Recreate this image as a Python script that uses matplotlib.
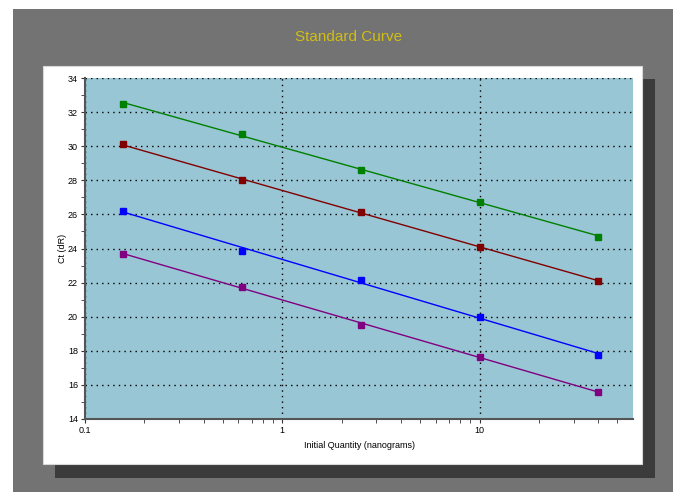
import numpy as np
import matplotlib.pyplot as plt
from matplotlib.patches import Rectangle

# Dilution series (nanograms) and Ct values for each standard
quantity = [0.156, 0.625, 2.5, 10, 40]
ct_green = [32.5, 30.7, 28.6, 26.75, 24.7]
ct_red = [30.1, 28.0, 26.15, 24.1, 22.1]
ct_blue = [26.2, 23.85, 22.15, 20.0, 17.75]
ct_purple = [23.7, 21.75, 19.5, 17.65, 15.6]

series = [(ct_green, '#008000'), (ct_red, '#800000'),
          (ct_blue, '#0000ff'), (ct_purple, '#800080')]

W, H = 673, 492
fig = plt.figure(figsize=(W / 100, H / 100), dpi=100)
fig.patch.set_facecolor('white')


def px_rect(x0, y0, x1, y1, **kw):
    # rectangle given in pixel coords (origin top-left)
    fig.patches.append(Rectangle((x0 / W, 1 - y1 / H), (x1 - x0) / W, (y1 - y0) / H,
                                 transform=fig.transFigure, **kw))


# gray frame, drop shadow and white panel
px_rect(13, 9, W, H, facecolor='#737373', edgecolor='none', zorder=-3)
px_rect(55, 79, 655, 478, facecolor='#3b3b3b', edgecolor='none', zorder=-2)
px_rect(43, 66, 642, 464, facecolor='white', edgecolor='#d8d8d8', lw=0.8, zorder=-1)

fig.text(349 / W, 1 - 37 / H, 'Standard Curve', color='#d2be10',
         fontsize=11, family='Liberation Sans', ha='center', va='center')

ax = fig.add_axes([85 / W, 1 - 419 / H, (633 - 85) / W, (419 - 78) / H])
ax.set_facecolor('#99c6d5')

x = np.array(quantity)
lx = np.log10(x)
for ct, color in series:
    slope, icpt = np.polyfit(lx, ct, 1)
    ax.plot(x, slope * lx + icpt, color=color, lw=1, zorder=3)
    ax.plot(x, ct, 's', color=color, ms=5, zorder=4)

ax.set_xscale('log')
ax.set_xlim(0.1, 60)
ax.set_ylim(14, 34)
ax.set_yticks(np.arange(14, 35, 2))
ax.set_yticks(np.arange(15, 34, 2), minor=True)
ax.set_xticks([0.1, 1, 10])
ax.set_xticklabels(['0.1', '1', '10'])
ax.set_xticks([m * d for d in (0.1, 1, 10) for m in range(2, 10) if m * d < 60], minor=True)
ax.xaxis.set_minor_formatter(plt.NullFormatter())

ax.grid(True, which='major', color='black', linestyle=(0, (1, 3)), lw=1)
for s in ('top', 'right'):
    ax.spines[s].set_visible(False)
for s in ('left', 'bottom'):
    ax.spines[s].set_color('#555555')
    ax.spines[s].set_linewidth(1.5)

ax.tick_params(which='both', direction='out', color='#333333', labelsize=6.5, pad=2)
ax.tick_params(which='major', length=3)
ax.tick_params(which='minor', length=3)
for lbl in ax.get_xticklabels() + ax.get_yticklabels():
    lbl.set_family('Liberation Sans')

ax.set_xlabel('Initial Quantity (nanograms)', fontsize=6.5, family='Liberation Sans', labelpad=4)
ax.set_ylabel('Ct (dR)', fontsize=6.5, family='Liberation Sans', labelpad=1)

fig.savefig('out.png', dpi=100)
